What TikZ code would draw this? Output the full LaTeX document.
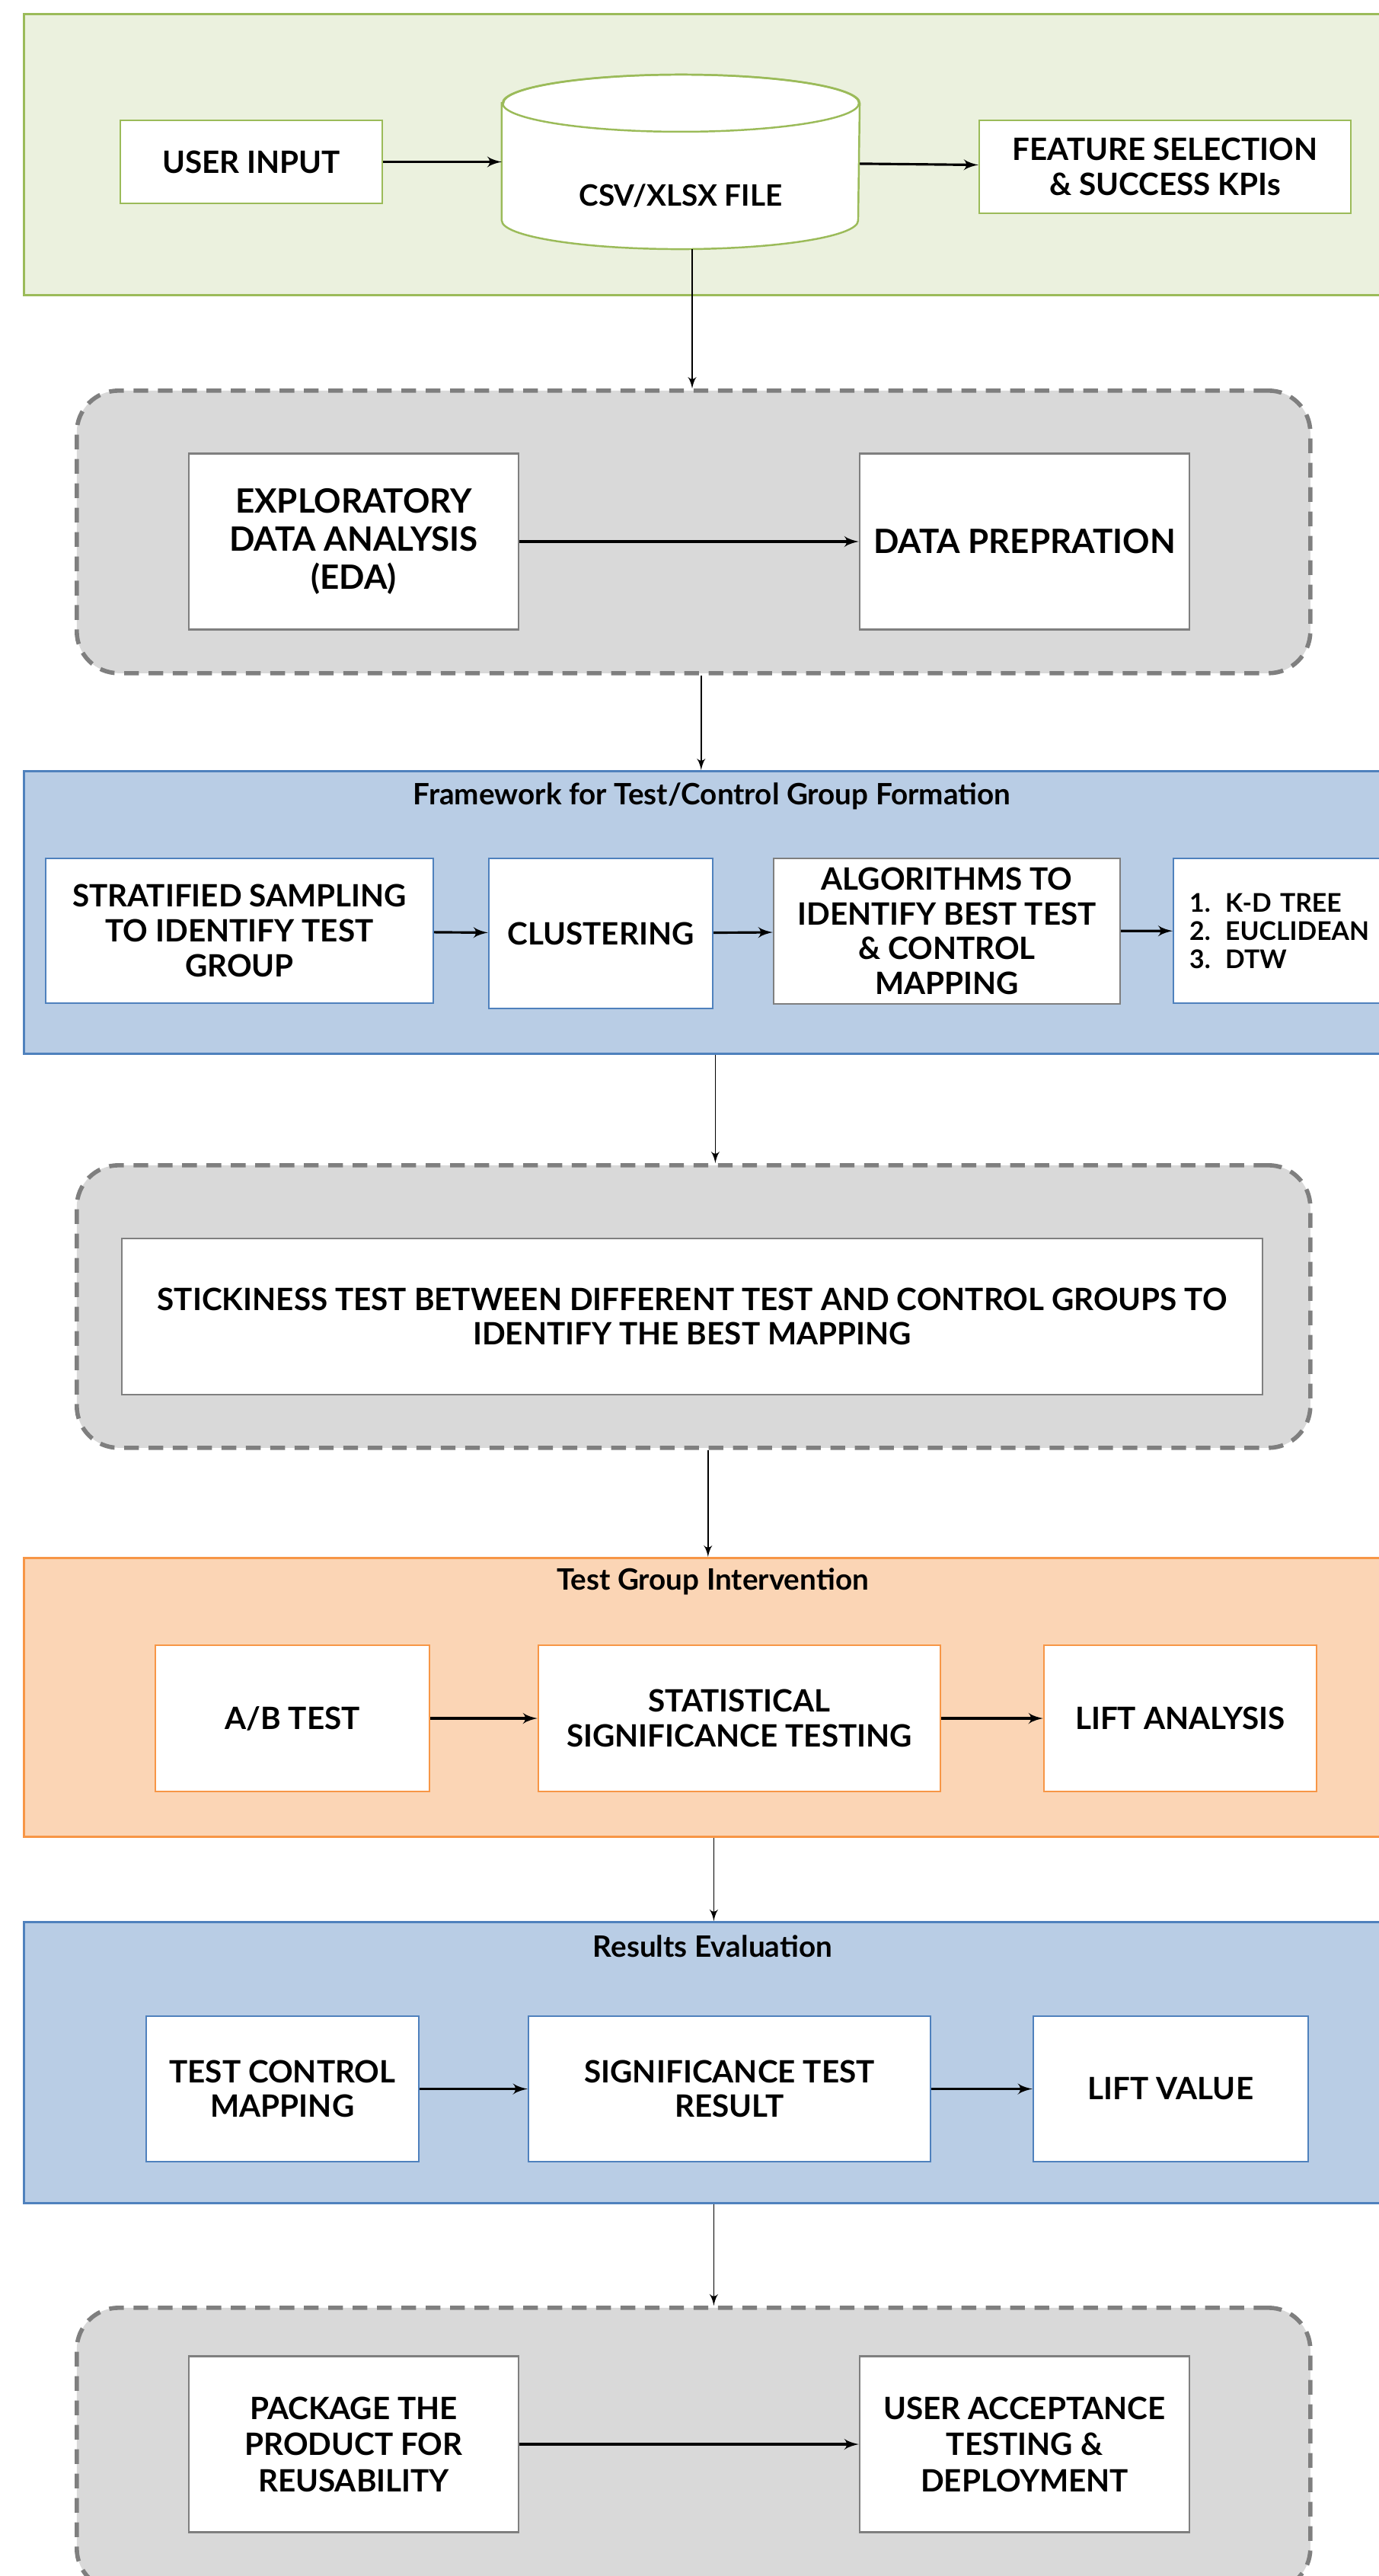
\documentclass[tikz,border=0pt]{standalone}
\usepackage{fontspec}
\setmainfont{Lato}
\usetikzlibrary{arrows,shapes.geometric,positioning}

\definecolor{greenfill}{HTML}{EBF1DE}
\definecolor{greenline}{HTML}{9BBB59}
\definecolor{bluefill}{HTML}{B9CDE5}
\definecolor{blueline}{HTML}{4F81BD}
\definecolor{orangefill}{HTML}{FBD5B5}
\definecolor{orangeline}{HTML}{F79646}
\definecolor{grayfill}{HTML}{D9D9D9}
\definecolor{grayline}{HTML}{7F7F7F}

\begin{document}
\begin{tikzpicture}[->,>=latex',x=1cm,y=-1cm,semithick]

  \tikzstyle{band}=[rectangle, anchor=north west, inner sep=0pt, minimum width=18cm, line width=0.8pt]
  \tikzstyle{dashframe}=[rectangle, anchor=north west, inner sep=0pt, minimum width=16.2cm, minimum height=3.71cm,
    fill=grayfill, draw=grayline, rounded corners=0.55cm, line width=1.6pt, dash pattern=on 5.5pt off 3.6pt]
  \tikzstyle{box}=[rectangle, fill=white, align=center, inner sep=2pt, line width=0.7pt,
    font=\bfseries\fontsize{11.5}{13}\selectfont]
  \tikzstyle{bigbox}=[box, draw=grayline, minimum width=4.33cm, minimum height=2.31cm,
    font=\bfseries\fontsize{12.5}{14.2}\selectfont]
  \tikzstyle{bandtitle}=[font=\bfseries\fontsize{11}{13}\selectfont]
  \tikzstyle{flow}=[line width=0.9pt]
  \tikzstyle{down}=[line width=0.5pt]

  \useasboundingbox (0,0) rectangle (18.11,33.82);

  % input
  \node[band, fill=greenfill, draw=greenline, minimum height=3.69cm] (inputband) at (0.30,0.17) {};
  \node[box, draw=greenline, minimum width=3.44cm, minimum height=1.09cm] (user) at (3.30,2.125) {USER INPUT};
  \node[rectangle, inner sep=0pt, minimum width=4.68cm, minimum height=2.27cm] (csv) at (8.94,2.125) {};
  \filldraw[-, draw=greenline, fill=white, line width=0.7pt]
    ([yshift=-0.375cm]csv.north west) -- ([yshift=0.375cm]csv.south west)
    arc[start angle=180, end angle=360, x radius=2.34cm, y radius=0.375cm]
    -- ([yshift=-0.375cm]csv.north east)
    arc[start angle=0, end angle=180, x radius=2.34cm, y radius=0.375cm] -- cycle;
  \draw[-, draw=greenline, line width=0.7pt] ([yshift=-0.375cm]csv.north) ellipse [x radius=2.34cm, y radius=0.375cm];
  \node[font=\bfseries\fontsize{11}{13}\selectfont] (csvtext) at (8.94,2.57) {CSV/XLSX FILE};
  \node[box, draw=greenline, minimum width=4.88cm, minimum height=1.22cm] (kpi) at (15.30,2.19) {FEATURE SELECTION\\\& SUCCESS KPIs};

  % eda
  \node[dashframe] (edaframe) at (0.98,5.10) {};
  \node[bigbox] (eda) at (4.645,7.11) {EXPLORATORY\\DATA ANALYSIS\\(EDA)};
  \node[bigbox] (prep) at (13.455,7.11) {DATA PREPRATION};

  % test/control groups
  \node[band, fill=bluefill, draw=blueline, minimum height=3.71cm] (groupband) at (0.30,10.11) {};
  \node[bandtitle] (grouptitle) at (9.35,10.45) {Framework for Test/Control Group Formation};
  \node[box, draw=blueline, minimum width=5.09cm, minimum height=1.90cm] (strat) at (3.145,12.22) {STRATIFIED SAMPLING\\TO IDENTIFY TEST\\GROUP};
  \node[box, draw=blueline, minimum width=2.94cm, minimum height=1.97cm] (clust) at (7.89,12.255) {CLUSTERING};
  \node[box, draw=grayline, minimum width=4.55cm, minimum height=1.91cm] (algo) at (12.435,12.225) {ALGORITHMS TO\\IDENTIFY BEST TEST\\\& CONTROL\\MAPPING};
  \node[box, draw=blueline, anchor=west, align=left, text width=2.9cm, inner xsep=0.21cm, minimum height=1.90cm,
    font=\bfseries\fontsize{9.6}{10.5}\selectfont] (metrics) at (15.40,12.22)
    {\makebox[0.47cm][l]{1.}K-D TREE\\\makebox[0.47cm][l]{2.}EUCLIDEAN\\\makebox[0.47cm][l]{3.}DTW};

  % stickiness
  \node[dashframe] (stickframe) at (0.98,15.27) {};
  \node[box, draw=grayline, minimum width=14.98cm, minimum height=2.05cm] (stick) at (9.09,17.285)
    {STICKINESS TEST BETWEEN DIFFERENT TEST AND CONTROL GROUPS TO\\IDENTIFY THE BEST MAPPING};

  % intervention
  \node[band, fill=orangefill, draw=orangeline, minimum height=3.66cm] (interband) at (0.30,20.44) {};
  \node[bandtitle] (intertitle) at (9.36,20.76) {Test Group Intervention};
  \node[box, draw=orangeline, minimum width=3.60cm, minimum height=1.92cm] (abtest) at (3.84,22.56) {A/B TEST};
  \node[box, draw=orangeline, minimum width=5.28cm, minimum height=1.92cm] (stat) at (9.71,22.56) {STATISTICAL\\SIGNIFICANCE TESTING};
  \node[box, draw=orangeline, minimum width=3.58cm, minimum height=1.92cm] (lift) at (15.50,22.56) {LIFT ANALYSIS};

  % results
  \node[band, fill=bluefill, draw=blueline, minimum height=3.69cm] (resultband) at (0.30,25.22) {};
  \node[bandtitle] (resulttitle) at (9.36,25.55) {Results Evaluation};
  \node[box, draw=blueline, minimum width=3.58cm, minimum height=1.91cm] (mapping) at (3.71,27.425) {TEST CONTROL\\MAPPING};
  \node[box, draw=blueline, minimum width=5.28cm, minimum height=1.91cm] (sigres) at (9.58,27.425) {SIGNIFICANCE TEST\\RESULT};
  \node[box, draw=blueline, minimum width=3.61cm, minimum height=1.91cm] (liftval) at (15.375,27.425) {LIFT VALUE};

  % deployment
  \node[dashframe] (deployframe) at (0.98,30.27) {};
  \node[bigbox, font=\bfseries\fontsize{11.5}{13.5}\selectfont] (package) at (4.645,32.09) {PACKAGE THE\\PRODUCT FOR\\REUSABILITY};
  \node[bigbox, font=\bfseries\fontsize{11.5}{13.5}\selectfont] (uat) at (13.455,32.09) {USER ACCEPTANCE\\TESTING \&\\DEPLOYMENT};

  \path[flow]
    (user) edge (csv)
    (csv) edge (kpi)
    (eda) edge (prep)
    (strat) edge (clust)
    (clust) edge (algo)
    (algo) edge (metrics)
    (abtest) edge (stat)
    (stat) edge (lift)
    (mapping) edge (sigres)
    (sigres) edge (liftval)
    (package) edge (uat);

  \draw[down] ([xshift=1.5mm]csv.south) -- ([xshift=1.5mm]csv.south |- edaframe.north);
  \draw[down] ([xshift=1mm]edaframe.south) -- ([xshift=1mm]edaframe.south |- groupband.north);
  \draw[down] ([xshift=0.8mm]groupband.south) -- ([xshift=0.8mm]groupband.south |- stickframe.north);
  \draw[down] ([xshift=1.9mm]stickframe.south) -- ([xshift=1.9mm]stickframe.south |- interband.north);
  \draw[down] ([xshift=0.6mm]interband.south) -- ([xshift=0.6mm]interband.south |- resultband.north);
  \draw[down] ([xshift=0.6mm]resultband.south) -- ([xshift=0.6mm]resultband.south |- deployframe.north);
\end{tikzpicture}
\end{document}
